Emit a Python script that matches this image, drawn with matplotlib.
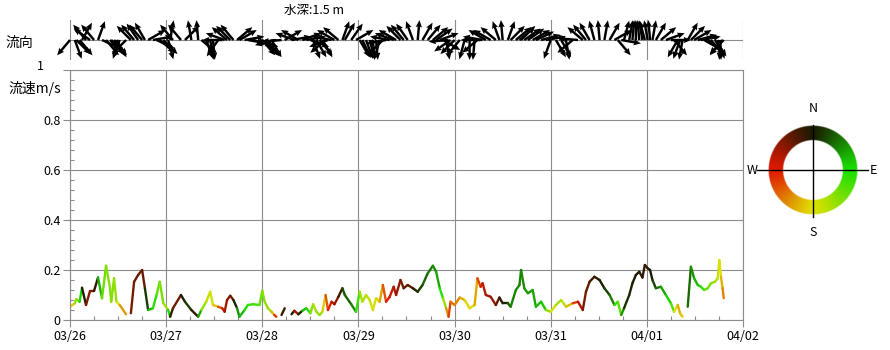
import numpy as np
import matplotlib
matplotlib.use("Agg")
import matplotlib.pyplot as plt
from matplotlib.collections import LineCollection

plt.rcParams['font.family'] = ['Noto Sans CJK JP', 'DejaVu Sans']

# ---------------- data ----------------
# hours since 03/26 00:00, speed (m/s), direction (deg, flowing toward, clockwise from N)
hours = [0, 1.2, 1.6, 2.4, 3, 4, 5, 6, 7, 8, 9, 10, 10.3, 11, 11.6, 12.4, 14, 14.6,
         15.2, 16, 17, 18, 18.7, 19.5, 20.7, 21.6, 22.4, 23.3, 24.5, 25, 25.7, 27.7, 28.7,
         30.3, 32, 32.8, 34, 35, 35.7, 37, 38, 38.6, 39.2, 40, 40.8, 41.7, 42.3, 43.6, 44.4,
         45.7, 47.3, 48, 48.6, 49.4, 50.3, 51, 51.5, 52.1,
         52.8, 53.6, 54.4,
         55.3, 56, 57, 58, 59, 60, 60.7, 61.5, 62.3, 63, 63.8, 64.4, 65.3, 66, 67, 68, 68.6,
         70.2, 71.4, 72.3, 73, 73.9, 74.8, 75.6, 76.4, 77.3, 78.1, 78.9, 79.8, 80.8, 81.4,
         82.5, 83.3, 84.3, 85.6, 86.8, 88, 89.3, 90.6, 91.4, 92.3, 93.1, 93.9, 94.5, 95, 96,
         97.3, 98.5, 99.75, 101, 101.7, 102.5, 103, 103.8, 105, 106.3, 107.2, 108, 109.3, 110,
         111.3, 112.2, 112.6, 113.4, 114.3, 115.5, 116.3, 117.6, 118.8, 120, 121.3, 122.6,
         123.8, 125.5, 126.8, 128, 128.8, 129.7, 130.9, 132.2, 133.4, 134.7, 135.9, 136.75,
         137.6, 138.3, 139.6, 140.4, 141.25, 142.1, 142.9, 143.5, 144.2, 144.8, 145.4, 146.25,
         147.5, 148.75, 150, 150.8, 151.7, 152.3, 152.9, 153.5,
         154.2, 155, 155.8, 156.7, 157.5, 158.3, 159.2, 160, 161, 161.7, 162.1, 162.5, 162.9,
         163.2]
nan = float('nan')
speed = [0.053, 0.067, 0.083, 0.073, 0.129, 0.06, 0.116, 0.116, 0.17, 0.087, 0.217, 0.127,
         0.073, 0.167, 0.073, 0.06, 0.023, nan,
         0.027, 0.153, 0.18, 0.2, 0.127, 0.04, 0.047, 0.1, 0.153, 0.067, 0.04, 0.013, 0.047,
         0.1, 0.073, 0.04, 0.013, 0.04, 0.073, 0.113, 0.06, 0.053, 0.047, 0.033, 0.08, 0.097,
         0.08, 0.047, 0.013, 0.04, 0.06, 0.063, 0.06, 0.117, 0.073, 0.047, 0.033, 0.02, 0.013,
         nan,
         0.02, 0.047, nan,
         0.023, 0.037, 0.023, 0.037, 0.047, 0.027, 0.063, 0.033, 0.02, 0.033, 0.1, 0.04, 0.073,
         0.063, 0.093, 0.127, 0.1, 0.063, 0.033, 0.113, 0.073, 0.1, 0.08, 0.04, 0.087, 0.073,
         0.14, 0.073, 0.093, 0.133, 0.1, 0.16, 0.127, 0.14, 0.127, 0.113, 0.14, 0.187, 0.217,
         0.193, 0.127, 0.087, 0.047, 0.013, 0.073, 0.06, 0.09, 0.08, 0.047, 0.06, 0.167, 0.133,
         0.147, 0.1, 0.093, 0.06, 0.09, 0.067, 0.067, 0.053, 0.12, 0.14, 0.2, 0.127, 0.107,
         0.12, 0.053, 0.073, 0.04, 0.033, 0.06, 0.08, 0.053, 0.067, 0.073, 0.04, 0.113, 0.153,
         0.173, 0.16, 0.127, 0.1, 0.06, 0.073, 0.02, 0.047, 0.1, 0.147, 0.18, 0.193, 0.17,
         0.22, 0.207, 0.2, 0.16, 0.127, 0.133, 0.1, 0.067, 0.033, 0.06, 0.027, 0.013, nan,
         0.053, 0.213, 0.167, 0.14, 0.133, 0.12, 0.127, 0.147, 0.153, 0.167, 0.24, 0.173, 0.127,
         0.087]
direction = [220, 160, 135, 140, 30, 320, 305, 320, 20, 115, 140, 135, 135, 140, 150, 200,
             225, nan,
             315, 320, 325, 320, 330, 60, 80, 115, 130, 135, 165, 10, 320, 320, 45, 350, 355,
             130, 160, 170, 175, 215, 270, 290, 310, 315, 320, 50, 60, 80, 100, 105, 110, 140,
             140, 145, 150, 255, 260, nan,
             265, 60, nan,
             80, 290, 300, 70, 80, 110, 160, 150, 140, 150, 230, 250, 280, 300, 310, 20, 30,
             35, 60, 150, 155, 160, 165, 175, 175, 195, 225, 260, 280, 290, 300, 315, 320, 325,
             340, 5, 30, 40, 50, 55, 70, 120, 170, 265, 235, 225, 220, 195, 180, 185, 230, 270,
             280, 300, 300, 310, 340, 355, 20, 45, 50, 50, 45, 55, 55, 60, 65, 75, 80, 200, 150,
             150, 170, 230, 275, 310, 320, 330, 345, 355, 10, 30, 60, 140, 100, 15, 10, 5, 0,
             355, 350, 345, 350, 355, 10, 30, 50, 70, 90, 140, 210, 200, 190, nan,
             30, 45, 60, 75, 80, 120, 125, 140, 145, 160, 175, 185, 220, 225]

xtick_labels = ['03/26', '03/27', '03/28', '03/29', '03/30', '03/31', '04/01', '04/02']
ytick_values = [0, 0.2, 0.4, 0.6, 0.8, 1.0]
ytick_labels = ['0', '0.2', '0.4', '0.6', '0.8', '']

t = np.array(hours, dtype=float)
v = np.array(speed, dtype=float)
d = np.array(direction, dtype=float)


def dir_rgb(deg):
    r = np.deg2rad(deg)
    u, w = np.sin(r), np.cos(r)
    R = np.clip((1 - u - w) / 2, 0, 1)
    G = np.clip((1 + u - w) / 2, 0, 1)
    return 0.1 + 0.78 * R, 0.1 + 0.78 * G, np.zeros_like(np.asarray(R, dtype=float))


def dir_color(deg):
    R, G, B = dir_rgb(deg)
    return (float(R), float(G), float(B))


W, H = 890, 350
fig = plt.figure(figsize=(W / 100, H / 100), dpi=100)
GREY = '#8c8c8c'

# ---------------- main speed axes ----------------
ax = fig.add_axes([70 / W, 30 / H, 673 / W, 250 / H])
ax.set_xlim(0, 168)
ax.set_ylim(0, 1)
ax.set_xticks(np.arange(0, 169, 24))
ax.set_xticklabels(xtick_labels, fontsize=9)
ax.set_xticks(np.arange(0, 169, 6), minor=True)
ax.set_yticks(ytick_values)
ax.set_yticklabels(ytick_labels, fontsize=9)
ax.set_yticks(np.arange(0, 1.0001, 0.04), minor=True)
ax.tick_params(axis='both', which='major', direction='out', length=5, width=0.8, color=GREY, pad=2)
ax.tick_params(axis='both', which='minor', direction='in', length=3, width=0.8, color=GREY)
ax.grid(True, which='major', color=GREY, linewidth=0.8)
for s in ax.spines.values():
    s.set_color(GREY)
    s.set_linewidth(0.8)

segs, cols = [], []
for i in range(len(t) - 1):
    if np.isnan(v[i]) or np.isnan(v[i + 1]):
        continue
    segs.append([(t[i], v[i]), (t[i + 1], v[i + 1])])
    a1, a2 = np.deg2rad(d[i]), np.deg2rad(d[i + 1])
    mean = np.rad2deg(np.arctan2(np.sin(a1) + np.sin(a2), np.cos(a1) + np.cos(a2)))
    cols.append(dir_color(mean))
lc = LineCollection(segs, colors=cols, linewidths=1.7, capstyle='round', joinstyle='round')
ax.add_collection(lc)

# ---------------- stick (direction) axes ----------------
axs = fig.add_axes([70 / W, 290 / H, 673 / W, 40 / H])
axs.set_xlim(0, 168)
axs.set_ylim(-1, 1)
axs.axis('off')
for x in np.arange(0, 169, 24):
    axs.plot([x, x], [-1, 1], color=GREY, lw=0.8, zorder=1)
axs.plot([0, 168], [0, 0], color=GREY, lw=0.8, zorder=1)
ok = ~np.isnan(d)
rad = np.deg2rad(d[ok])
axs.quiver(t[ok], np.zeros(ok.sum()), np.sin(rad), np.cos(rad), angles='uv',
           scale_units='inches', scale=5.0, pivot='tail', color='black',
           width=0.0036, headwidth=2.6, headlength=3.0, headaxislength=2.7,
           zorder=3, clip_on=False)

# ---------------- labels ----------------
def ftext(x, y, s, **kw):
    fig.text(x / W, 1 - y / H, s, **kw)

ftext(314, 10, '水深:1.5 m', ha='center', va='center', fontsize=9)
ftext(5, 43, '流向', ha='left', va='center', fontsize=10)
ftext(44, 66, '1', ha='right', va='center', fontsize=9)
ftext(8, 88, '流速m/s', ha='left', va='center', fontsize=10)

# ---------------- direction colour wheel ----------------
axc = fig.add_axes([743 / W, 110 / H, 140 / W, 140 / H])
axc.set_xlim(-70, 70)
axc.set_ylim(-70, 70)
axc.set_aspect('equal')
axc.axis('off')
n = 280
gx = np.linspace(-70, 70, n)
GX, GY = np.meshgrid(gx, gx[::-1])
rr = np.hypot(GX, GY)
comp = np.rad2deg(np.arctan2(GX, GY))
R, G, B = dir_rgb(comp)
alpha = np.clip(np.minimum(44.5 - rr, rr - 30.0) * 2 + 0.5, 0, 1)
img = np.dstack([R, G, B, alpha])
axc.imshow(img, extent=(-70, 70, -70, 70), interpolation='bilinear', zorder=1)
axc.plot([0, 0], [-47, 45], color='black', lw=1, zorder=2)
axc.plot([-56, 55], [0, 0], color='black', lw=1, zorder=2)
axc.text(0, 62, 'N', ha='center', va='center', fontsize=9)
axc.text(0, -63, 'S', ha='center', va='center', fontsize=9)
axc.text(-61, 0, 'W', ha='center', va='center', fontsize=9)
axc.text(60, 0, 'E', ha='center', va='center', fontsize=9)

fig.savefig('out.png', dpi=100)
